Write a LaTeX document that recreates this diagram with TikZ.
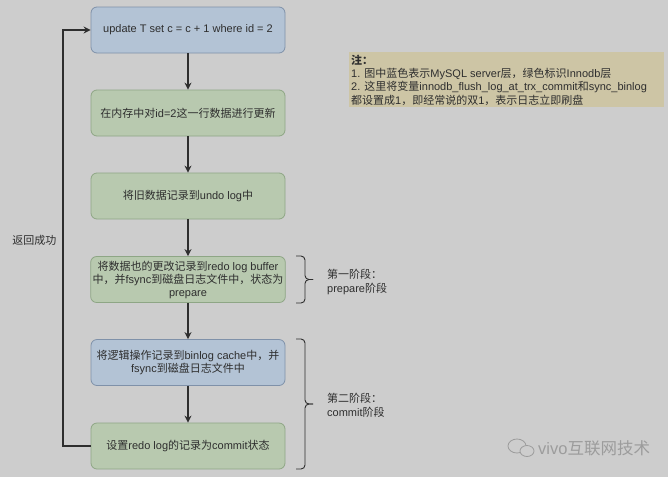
\documentclass[tikz,border=0pt]{standalone}
\usepackage{fontspec}
\setmainfont{Liberation Sans}
\newfontfamily\cjk{Noto Sans CJK SC}
\newcommand\zh[1]{{\cjk #1}}
\usetikzlibrary{arrows.meta}

\definecolor{bgcol}{HTML}{CDCDCD}
\definecolor{txtcol}{HTML}{2E2E2E}
\definecolor{bluefill}{HTML}{B3C3D5}
\definecolor{blueline}{HTML}{7F91A9}
\definecolor{greenfill}{HTML}{B8C9AF}
\definecolor{greenline}{HTML}{8EA685}
\definecolor{notefill}{HTML}{CDC5A5}
\definecolor{markcol}{HTML}{9C9C9C}

\tikzset{
  stepbox/.style={rounded corners=6pt, line width=0.8pt, minimum width=194pt,
    minimum height=46pt, align=center, inner sep=2pt, text=txtcol,
    font=\fontsize{11}{13}\selectfont},
  srvbox/.style={stepbox, fill=bluefill, draw=blueline},
  innobox/.style={stepbox, fill=greenfill, draw=greenline},
  flow/.style={draw=txtcol, line width=1.2pt, -{Stealth[length=7pt,width=7pt]}},
  bracket/.style={draw=txtcol, line width=0.9pt, rounded corners=4pt},
  plain/.style={text=txtcol, inner sep=0pt, font=\fontsize{11}{14}\selectfont}
}

\begin{document}
\begin{tikzpicture}[x=1pt,y=-1pt]
\useasboundingbox (0,0) rectangle (668,477);
\fill[bgcol] (0,0) rectangle (668,477);

% process steps
\node[srvbox]  (b1) at (188,30)    {update T set c = c + 1 where id = 2};
\node[innobox] (b2) at (188,113)   {\zh{在内存中对}id=2\zh{这一行数据进行更新}};
\node[innobox] (b3) at (188,196)   {\zh{将旧数据记录到}undo log\zh{中}};
\node[innobox] (b4) at (188,279.5) {\zh{将数据也的更改记录到}redo log buffer\\
  \zh{中，并}fsync\zh{到磁盘日志文件中，状态为}\\prepare};
\node[srvbox]  (b5) at (188,362.5) {\zh{将逻辑操作记录到}binlog cache\zh{中，并}\\
  fsync\zh{到磁盘日志文件中}};
\node[innobox] (b6) at (188,446)   {\zh{设置}redo log\zh{的记录为}commit\zh{状态}};

\draw[flow] (b1) -- (b2);
\draw[flow] (b2) -- (b3);
\draw[flow] (b3) -- (b4);
\draw[flow] (b4) -- (b5);
\draw[flow] (b5) -- (b6);

% return path
\coordinate (turn) at (63,446);
\draw[flow] (b6.west) -- (turn) |- (b1.west);
\node[plain] (ret) at (34.5,240) {\zh{返回成功}};

% phase brackets
\coordinate (p1top) at (296,256);
\coordinate (p1bot) at (296,303);
\coordinate (p1tip) at (313,279.5);
\draw[bracket] (p1top) -- (305,256) -- (305,279.5) -- (p1tip);
\draw[bracket] (p1bot) -- (305,303) -- (305,279.5) -- (p1tip);
\node[plain, anchor=west, align=left] (ph1) at (327,281.5)
  {\zh{第一阶段：}\\prepare\zh{阶段}};

\coordinate (p2top) at (296,339);
\coordinate (p2bot) at (296,469);
\coordinate (p2tip) at (313,404);
\draw[bracket] (p2top) -- (305,339) -- (305,404) -- (p2tip);
\draw[bracket] (p2bot) -- (305,469) -- (305,404) -- (p2tip);
\node[plain, anchor=west, align=left] (ph2) at (327,405.5)
  {\zh{第二阶段：}\\commit\zh{阶段}};

% note
\node[fill=notefill, minimum width=315pt, minimum height=55pt,
  anchor=north west, inner sep=0pt] (note) at (349,52) {};
\node[plain, anchor=north west, align=left, font=\fontsize{11}{13.4}\selectfont]
  (notetxt) at (351,54.5)
  {{\cjk\bfseries 注：}\\
   1. \zh{图中蓝色表示}MySQL server\zh{层，绿色标识}Innodb\zh{层}\\
   2. \zh{这里将变量}innodb\_flush\_log\_at\_trx\_commit\zh{和}sync\_binlog\\
   \zh{都设置成}1\zh{，即经常说的双}1\zh{，表示日志立即刷盘}};

% channel mark
\draw[markcol, line width=0.8pt] (517,446) ellipse [x radius=9, y radius=7];
\draw[markcol, line width=0.8pt, fill=bgcol] (527,451) ellipse [x radius=7, y radius=5.5];
\node[text=markcol, inner sep=0pt, anchor=west, font=\fontsize{16.5}{18}\selectfont]
  (mark) at (538,448) {vivo\zh{互联网技术}};
\end{tikzpicture}
\end{document}
